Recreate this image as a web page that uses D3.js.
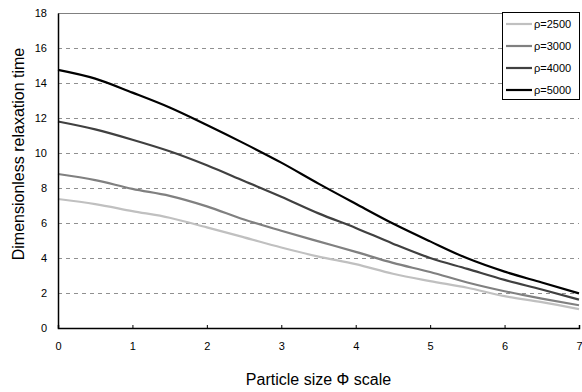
<!DOCTYPE html>
<html>
<head>
<meta charset="utf-8">
<script src="https://cdnjs.cloudflare.com/ajax/libs/d3/7.8.5/d3.min.js"></script>
<style>
  body { margin: 0; background: #fff; }
  text { font-family: "Liberation Sans", Arial, sans-serif; fill: #000; }
</style>
</head>
<body>
<div id="chart"></div>
<script>
// particle size (phi scale)
var phi = [0, 0.5, 1, 1.5, 2, 2.5, 3, 3.5, 4, 4.5, 5, 5.5, 6, 6.5, 7];

// dimensionless relaxation time per density
var rho2500 = [7.37, 7.08, 6.68, 6.3, 5.75, 5.18, 4.6, 4.08, 3.65, 3.1, 2.68, 2.3, 1.82, 1.48, 1.08];
var rho3000 = [8.8, 8.45, 7.95, 7.55, 6.95, 6.2, 5.56, 4.95, 4.35, 3.72, 3.2, 2.6, 2.1, 1.68, 1.3];
var rho4000 = [11.8, 11.35, 10.76, 10.1, 9.3, 8.4, 7.5, 6.55, 5.72, 4.82, 4.0, 3.38, 2.75, 2.2, 1.62];
var rho5000 = [14.75, 14.25, 13.45, 12.6, 11.6, 10.55, 9.45, 8.25, 7.1, 5.97, 4.95, 3.98, 3.22, 2.6, 1.98];

var seriesNames = ["\u03c1=2500", "\u03c1=3000", "\u03c1=4000", "\u03c1=5000"];
var seriesColors = ["#c0c0c0", "#808080", "#404040", "#000000"];
var xTicks = [0, 1, 2, 3, 4, 5, 6, 7];
var yTicks = [0, 2, 4, 6, 8, 10, 12, 14, 16, 18];

var width = 582, height = 392;
var margin = {top: 13, right: 3, bottom: 64, left: 58};
var w = width - margin.left - margin.right;
var h = height - margin.top - margin.bottom;

var svg = d3.select("#chart").append("svg")
    .attr("width", width)
    .attr("height", height);

var g = svg.append("g")
    .attr("transform", "translate(" + margin.left + "," + margin.top + ")");

var x = d3.scaleLinear().domain([0, 7]).range([0, w]);
var y = d3.scaleLinear().domain([0, 18]).range([h, 0]);

// dashed grid
g.selectAll(".grid")
    .data(yTicks.filter(function (d) { return d > 0 && d < 18; }))
    .enter().append("line")
    .attr("x1", 0).attr("x2", w)
    .attr("y1", function (d) { return Math.round(y(d)) + 0.5; })
    .attr("y2", function (d) { return Math.round(y(d)) + 0.5; })
    .attr("stroke", "#909090")
    .attr("stroke-dasharray", "4,4")
    .attr("stroke-width", 1);

// top border
g.append("line")
    .attr("x1", 0).attr("x2", w)
    .attr("y1", 0.5).attr("y2", 0.5)
    .attr("stroke", "#808080");

// lines
var allSeries = [rho2500, rho3000, rho4000, rho5000];
var line = d3.line()
    .x(function (d, i) { return x(phi[i]); })
    .y(function (d) { return y(d); })
    .curve(d3.curveMonotoneX);

g.selectAll(".series")
    .data(allSeries)
    .enter().append("path")
    .attr("fill", "none")
    .attr("stroke", function (d, i) { return seriesColors[i]; })
    .attr("stroke-width", 2.2)
    .attr("d", line);

// axes
var xAxis = g.append("g")
    .attr("transform", "translate(0," + h + ")")
    .call(d3.axisBottom(x).tickValues(xTicks).tickSize(-3).tickPadding(14).tickFormat(d3.format("d")));
xAxis.select(".domain").attr("stroke", "#000").attr("stroke-width", 1.5);
xAxis.selectAll("text").attr("font-size", "11px");

var yAxis = g.append("g")
    .call(d3.axisLeft(y).tickValues(yTicks).tickSize(0).tickPadding(11).tickFormat(d3.format("d")));
yAxis.select(".domain").attr("stroke", "#000").attr("stroke-width", 1.5);
yAxis.selectAll("text").attr("font-size", "11px");

// axis titles
svg.append("text")
    .attr("x", margin.left + w / 2)
    .attr("y", 385)
    .attr("text-anchor", "middle")
    .attr("font-size", "16px")
    .text("Particle size \u03a6 scale");

svg.append("text")
    .attr("transform", "translate(24," + 154 + ") rotate(-90)")
    .attr("text-anchor", "middle")
    .attr("font-size", "16px")
    .text("Dimensionless relaxation time");

// legend
var legend = svg.append("g").attr("transform", "translate(502,12)");
legend.append("rect")
    .attr("x", 0.5).attr("y", 0.5)
    .attr("width", 77).attr("height", 87)
    .attr("fill", "#fff")
    .attr("stroke", "#000");

var items = legend.selectAll(".item")
    .data(seriesNames)
    .enter().append("g")
    .attr("transform", function (d, i) { return "translate(0," + (12 + i * 22) + ")"; });
items.append("line")
    .attr("x1", 4).attr("x2", 30)
    .attr("stroke", function (d, i) { return seriesColors[i]; })
    .attr("stroke-width", 2.2);
items.append("text")
    .attr("x", 32).attr("y", 4)
    .attr("font-size", "11px")
    .text(function (d) { return d; });
</script>
</body>
</html>
